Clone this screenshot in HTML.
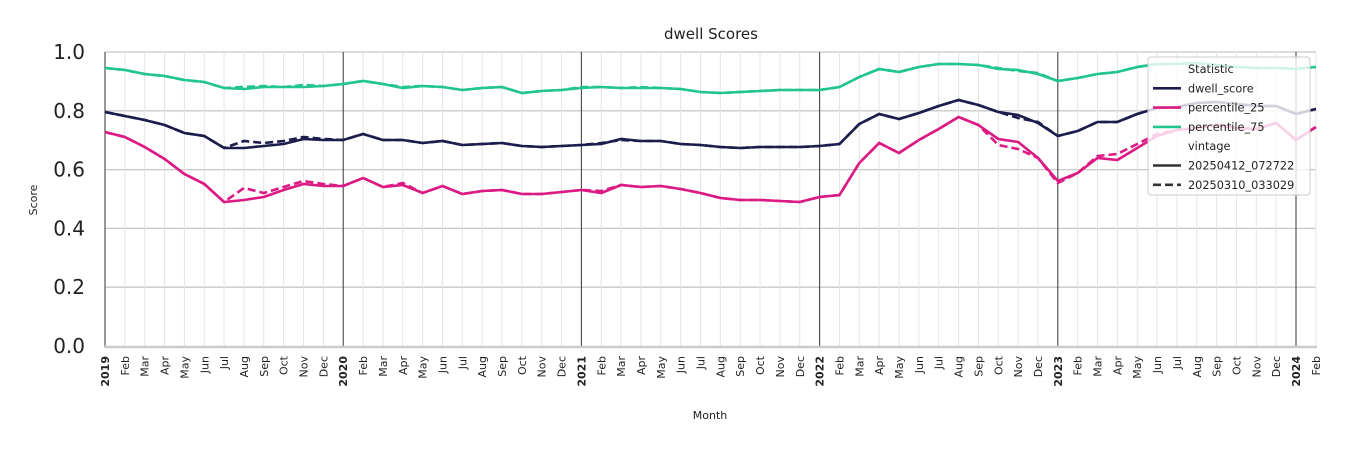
<!DOCTYPE html>
<html><head><meta charset="utf-8"><style>
html,body{margin:0;padding:0;background:#fff;}
svg{display:block;font-family:"DejaVu Sans","Liberation Sans",sans-serif;}
</style></head><body>
<svg id="c" width="1350" height="450" xmlns="http://www.w3.org/2000/svg"></svg>
<script>
const s=document.getElementById('c');
const X0=105,DX=19.85;
const xp=i=>X0+i*DX;
let h='';
[0.2,0.4,0.6,0.8,1.0].forEach(v=>{const y=346-v*294;h+=`<line x1="105" x2="1316" y1="${y}" y2="${y}" stroke="#c8c8c8" stroke-width="1.3"/>`;});
const mon=['Jan','Feb','Mar','Apr','May','Jun','Jul','Aug','Sep','Oct','Nov','Dec'];
for(let i=0;i<=61;i++){const x=xp(i);const yr=i%12==0;
h+=`<line x1="${x}" x2="${x}" y1="52" y2="346" stroke="${yr?'#444':'#e4e4e4'}" stroke-width="${yr?1.1:1}"/>`;
const lab=yr?(2019+i/12):mon[i%12];
h+=`<text transform="translate(${x+4},356) rotate(-90)" text-anchor="end" font-size="11" ${yr?'font-weight="bold"':''} fill="#222">${lab}</text>`;}
h+=`<line x1="104" x2="1317" y1="347" y2="347" stroke="#cccccc" stroke-width="2.5"/>`;
[0,0.2,0.4,0.6,0.8,1.0].forEach(v=>{const y=346-v*294;h+=`<text x="85" y="${y+7}" text-anchor="end" font-size="20" fill="#222">${v.toFixed(1)}</text>`;});
h+=`<text x="711" y="39" text-anchor="middle" font-size="15" fill="#222">dwell Scores</text>`;
h+=`<text x="710" y="419" text-anchor="middle" font-size="11" fill="#222">Month</text>`;
h+=`<text transform="translate(37,200) rotate(-90)" text-anchor="middle" font-size="11" fill="#222">Score</text>`;
const dw=[112,116,120,125,133,136,148,148,146,144,139,140,140,134,140,140,143,141,145,144,143,146,147,146,145,144,139,141,141,144,145,147,148,147,147,147,146,144,124,114,119,113,106,100,105,112,115,123,136,131,122,122,114,108,107,103,102,104,106,106,114,109];
const p25=[132,137,147,159,174,184,202,200,197,190,184,186,186,178,187,185,193,186,194,191,190,194,194,192,190,193,185,187,186,189,193,198,200,200,201,202,197,195,163,143,153,140,129,117,125,139,142,158,181,173,158,160,148,136,130,128,125,128,129,123,140,127];
const p75=[68,70,74,76,80,82,88,89,87,87,87,86,84,81,84,88,86,87,90,88,87,93,91,90,88,87,88,88,88,89,92,93,92,91,90,90,90,87,77,69,72,67,64,64,65,69,70,74,81,78,74,72,67,64,64,63,65,67,68,68,69,67];
const mod=(a,o)=>{const b=a.slice();for(const k in o)b[k]=o[k];return b;};
const dwD=mod(dw,{7:141,8:143,9:141,10:137,11:139,46:118,47:122,25:143,26:140});
const p25D=mod(p25,{7:188,8:193,9:187,10:181,11:184,15:183,45:145,46:149,48:183,50:156,51:154,52:144,53:134,25:191});
const p75D=mod(p75,{7:87,8:86,10:85,15:87,24:87,27:87,45:68,46:71,47:73});
const pts=a=>a.map((y,i)=>xp(i).toFixed(1)+','+y).join(' ');
const series=[[p75,'#22c58e'],[p25,'#dc1a84'],[dw,'#1d1d4d']];
const seriesD=[[p75D,'#22c58e'],[p25D,'#dc1a84'],[dwD,'#1d1d4d']];
seriesD.forEach(([a,c])=>{h+=`<polyline points="${pts(a)}" fill="none" stroke="${c}" stroke-width="2.6" stroke-dasharray="8,4"/>`;});
series.forEach(([a,c])=>{h+=`<polyline points="${pts(a)}" fill="none" stroke="${c}" stroke-width="2.6"/>`;});
h+=`<rect x="1148" y="57" width="162" height="138" rx="3" fill="#fff" fill-opacity="0.8" stroke="#ccc" stroke-width="1"/>`;
const L=[['Statistic',null,0],['dwell_score','#1d1d4d',0],['percentile_25','#dc1a84',0],['percentile_75','#22c58e',0],['vintage',null,0],['20250412_072722','#333',0],['20250310_033029','#333',1]];
L.forEach((r,k)=>{const y=73+k*19.3;
if(r[1])h+=`<line x1="1153" x2="1181" y1="${y-4}" y2="${y-4}" stroke="${r[1]}" stroke-width="2.6" ${r[2]?'stroke-dasharray="8,4"':''}/>`;
h+=`<text x="1188" y="${y}" font-size="11.3" fill="#222">${r[0]}</text>`;});
s.innerHTML=h;
</script>
</body></html>
